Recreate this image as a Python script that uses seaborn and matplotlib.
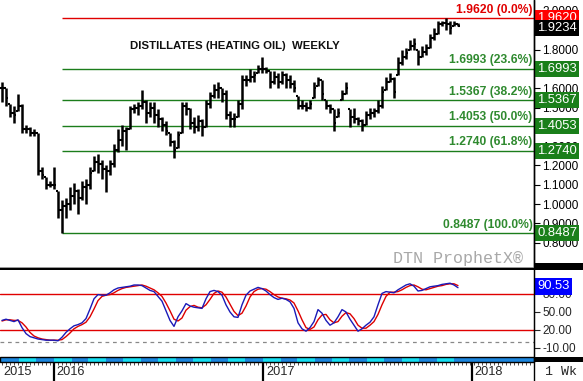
import matplotlib
matplotlib.use('Agg')
import numpy as np
import pandas as pd
import seaborn as sns
import matplotlib.pyplot as plt
import matplotlib.transforms as mtrans
from matplotlib.patches import Rectangle

# weekly heating oil bars, first bar week of 2015-10-02
first_week = '2015-10-02'
highs = [1.63, 1.60, 1.52, 1.51, 1.57, 1.52, 1.41, 1.40, 1.39, 1.37,
         1.19, 1.14, 1.12, 1.19, 1.07, 1.02, 1.03, 1.09, 1.11, 1.08,
         1.12, 1.13, 1.19, 1.25, 1.26, 1.23, 1.20, 1.23, 1.31, 1.39,
         1.41, 1.40, 1.51, 1.52, 1.53, 1.59, 1.54, 1.53, 1.53, 1.49,
         1.45, 1.43, 1.37, 1.33, 1.38, 1.53, 1.53, 1.50, 1.45, 1.46,
         1.44, 1.54, 1.58, 1.62, 1.63, 1.60, 1.59, 1.48, 1.47, 1.54,
         1.67, 1.67, 1.70, 1.69, 1.72, 1.76, 1.71, 1.69, 1.69, 1.68,
         1.69, 1.68, 1.67, 1.64, 1.56, 1.54, 1.53, 1.54, 1.63, 1.66,
         1.64, 1.54, 1.52, 1.49, 1.50, 1.59, 1.63, 1.49, 1.50, 1.45,
         1.44, 1.48, 1.50, 1.50, 1.54, 1.61, 1.66, 1.68, 1.66, 1.76,
         1.80, 1.81, 1.85, 1.86, 1.80, 1.82, 1.83, 1.88, 1.91, 1.95,
         1.95, 1.962, 1.95, 1.95, 1.94]
lows = [1.53, 1.51, 1.45, 1.42, 1.48, 1.37, 1.37, 1.35, 1.35, 1.15,
        1.13, 1.08, 1.09, 1.08, 0.93, 0.8487, 0.93, 0.97, 1.00, 0.95,
        1.02, 1.00, 1.08, 1.17, 1.16, 1.13, 1.06, 1.15, 1.19, 1.27,
        1.30, 1.28, 1.39, 1.47, 1.46, 1.49, 1.42, 1.45, 1.42, 1.40,
        1.38, 1.36, 1.30, 1.24, 1.29, 1.37, 1.46, 1.39, 1.37, 1.38,
        1.35, 1.40, 1.50, 1.55, 1.55, 1.53, 1.44, 1.40, 1.40, 1.45,
        1.49, 1.61, 1.63, 1.63, 1.68, 1.68, 1.68, 1.60, 1.62, 1.60,
        1.62, 1.60, 1.60, 1.58, 1.49, 1.49, 1.48, 1.49, 1.55, 1.61,
        1.54, 1.49, 1.47, 1.38, 1.45, 1.54, 1.57, 1.40, 1.42, 1.41,
        1.38, 1.41, 1.44, 1.45, 1.47, 1.50, 1.59, 1.63, 1.55, 1.67,
        1.72, 1.75, 1.80, 1.80, 1.72, 1.76, 1.77, 1.81, 1.85, 1.88,
        1.92, 1.90, 1.88, 1.92, 1.92]
closes = [1.60, 1.55, 1.47, 1.46, 1.51, 1.39, 1.39, 1.37, 1.37, 1.17,
          1.15, 1.10, 1.10, 1.10, 0.97, 0.99, 1.00, 1.04, 1.07, 1.03,
          1.09, 1.10, 1.16, 1.22, 1.21, 1.18, 1.17, 1.21, 1.28, 1.33,
          1.38, 1.39, 1.49, 1.50, 1.51, 1.53, 1.47, 1.50, 1.46, 1.44,
          1.41, 1.38, 1.32, 1.28, 1.36, 1.51, 1.49, 1.42, 1.40, 1.43,
          1.40, 1.52, 1.56, 1.59, 1.60, 1.57, 1.46, 1.44, 1.44, 1.52,
          1.64, 1.64, 1.66, 1.67, 1.70, 1.70, 1.69, 1.63, 1.66, 1.63,
          1.67, 1.64, 1.62, 1.60, 1.51, 1.51, 1.50, 1.52, 1.60, 1.64,
          1.57, 1.51, 1.49, 1.42, 1.47, 1.57, 1.60, 1.45, 1.44, 1.43,
          1.41, 1.46, 1.47, 1.48, 1.51, 1.58, 1.63, 1.65, 1.58, 1.73,
          1.76, 1.78, 1.82, 1.83, 1.76, 1.79, 1.81, 1.86, 1.88, 1.93,
          1.94, 1.93, 1.91, 1.93, 1.9234]

# stochastics (%K blue, %D red)
stoch_k = [36, 38, 36, 34, 37, 24, 14, 9, 7, 5,
           4, 3, 3, 3, 2, 8, 16, 22, 27, 29,
           32, 39, 55, 72, 79, 78, 78, 82, 87, 90,
           91, 92, 93, 95, 95, 94, 90, 86, 84, 76,
           68, 52, 36, 26, 42, 52, 64, 60, 58, 57,
           56, 72, 84, 86, 84, 78, 62, 50, 42, 41,
           62, 78, 85, 88, 91, 89, 85, 79, 74, 71,
           73, 71, 67, 56, 32, 22, 18, 24, 34, 54,
           48, 36, 28, 32, 42, 54, 50, 38, 28, 18,
           22, 28, 33, 42, 62, 81, 84, 83, 82, 87,
           91, 95, 97, 93, 85, 86, 89, 92, 93, 94,
           96, 97, 98, 95, 90.53]
stoch_d = [35, 37, 37, 36, 36, 32, 25, 16, 10, 7,
           5, 4, 3, 3, 3, 4, 9, 15, 22, 26,
           29, 33, 42, 55, 69, 76, 78, 79, 82, 86,
           89, 91, 92, 93, 94, 95, 93, 90, 87, 82,
           76, 65, 52, 38, 35, 40, 53, 59, 61, 58,
           57, 62, 71, 81, 85, 83, 75, 63, 51, 44,
           48, 60, 75, 84, 88, 89, 88, 84, 79, 75,
           73, 72, 70, 65, 52, 37, 24, 21, 25, 37,
           45, 46, 37, 32, 34, 43, 49, 47, 39, 28,
           23, 23, 28, 34, 46, 62, 76, 83, 83, 84,
           87, 91, 94, 95, 92, 88, 87, 89, 91, 93,
           94, 96, 97, 97, 94]

fib_levels = [1.9620, 1.6993, 1.5367, 1.4053, 1.2740, 0.8487]
fib_pcts = ['0.0%', '23.6%', '38.2%', '50.0%', '61.8%', '100.0%']
last_price = 1.9234
price_ticks = [0.8, 0.9, 1.0, 1.1, 1.2, 1.3, 1.4, 1.5, 1.6, 1.7, 1.8, 1.9, 2.0]
price_tick_labels = ['0.8000', '0.9000', '1.0000', '1.1000', '1.2000', '1.3000', '',
                     '1.5000', '1.6000', '', '1.8000', '', '2.0000']
stoch_ticks = [-10, 20, 50, 80]
year_labels = ['2015', '2016', '2017', '2018']

sns.set_style('white')
plt.rcParams['font.family'] = ['Liberation Sans', 'DejaVu Sans']

W, H = 583, 381
fig = plt.figure(figsize=(W / 100, H / 100), dpi=100)

def fx(px):
    return px / W

def fy(py):
    return 1 - py / H

GREEN = '#1b7d1b'
GREEN_TXT = '#2f8a2f'
RED = '#e00000'

ax_p = fig.add_axes([0, fy(266), fx(534), (266 - 0) / H])
ax_s = fig.add_axes([0, fy(357), fx(534), (357 - 270) / H])
ax_b = fig.add_axes([0, fy(362), fx(534), 5 / H])
ax_d = fig.add_axes([0, 0, fx(534), fy(362)])

xmin, xmax = -0.5, 133.0
n = len(closes)
idx = np.arange(n)
start = pd.Timestamp(first_week)

def date_idx(d):
    return (pd.Timestamp(d) - start).days / 7.0

# ---- price panel ----
hi = np.array(highs)
lo = np.array(lows)
cl = np.array(closes)
op = np.clip(np.r_[cl[0], cl[:-1]], lo, hi)
ax_p.vlines(idx, lo, hi, color='black', lw=1.8, zorder=4)
ax_p.hlines(op, idx - 0.45, idx, color='black', lw=1.5, zorder=4)
ax_p.hlines(cl, idx, idx + 0.45, color='black', lw=1.5, zorder=4)

low_i = int(np.argmin(lo))
trans_r = mtrans.blended_transform_factory(ax_p.transAxes, ax_p.transData)
box_kw = dict(ha='left', va='center', color='white', fontsize=9.4, clip_on=False, zorder=6)
for lvl, pct in zip(fib_levels, fib_pcts):
    col = RED if pct == '0.0%' else GREEN
    tcol = RED if pct == '0.0%' else GREEN_TXT
    ax_p.hlines(lvl, low_i, xmax, color=col, lw=1.0, zorder=2)
    ax_p.annotate(f'{lvl:.4f} ({pct})', xy=(132.6, lvl), xytext=(0, 2),
                  textcoords='offset points', ha='right', va='bottom',
                  color=tcol, fontsize=8.7, fontweight='bold', zorder=5)
    ax_p.text(1.006, lvl, f'{lvl:.4f}', transform=trans_r,
              bbox=dict(facecolor=('#ff0000' if pct == '0.0%' else '#1a7f1a'),
                        edgecolor='none', pad=1.4), **box_kw)
ax_p.text(1.006, last_price - 0.012, f'{last_price:.4f}', transform=trans_r,
          bbox=dict(facecolor='black', edgecolor='none', pad=1.4), **box_kw)

ax_p.set_xlim(xmin, xmax)
ax_p.set_ylim(0.6793, 2.0568)
ax_p.yaxis.tick_right()
ax_p.set_yticks(price_ticks)
ax_p.set_yticklabels(price_tick_labels)
ax_p.tick_params(axis='y', right=True, length=4, width=0.8, labelsize=8.5, pad=2,
                 colors='black')
ax_p.set_xticks([])
for s in ['top', 'left', 'bottom']:
    ax_p.spines[s].set_visible(False)
ax_p.spines['right'].set_color('black')
ax_p.spines['right'].set_linewidth(1.0)

fig.text(fx(130), fy(46), 'DISTILLATES (HEATING OIL)  WEEKLY', ha='left', va='center',
         fontsize=8.2, fontweight='bold', color='#111111')
fig.text(fx(393), fy(258), 'DTN ProphetX\u00ae', ha='left', va='center',
         family=['Liberation Mono', 'DejaVu Sans Mono'], fontsize=12, color='#a8a8a8')

# ---- stochastic panel ----
sdf = pd.DataFrame({'week': idx, 'k': stoch_k, 'd': stoch_d})
ax_s.axhline(80, color=RED, lw=1.0)
ax_s.axhline(20, color=RED, lw=1.0)
ax_s.axhline(0, color='#888888', lw=0.9, dashes=(3, 3))
sns.lineplot(data=sdf, x='week', y='d', color='#dd0000', lw=1.0, ax=ax_s)
sns.lineplot(data=sdf, x='week', y='k', color='#1a1ab8', lw=1.0, ax=ax_s)
ax_s.set_xlim(xmin, xmax)
ax_s.set_ylim(-25, 120)
ax_s.set_xlabel('')
ax_s.set_ylabel('')
ax_s.set_xticks([])
ax_s.yaxis.tick_right()
ax_s.set_yticks(stoch_ticks)
ax_s.set_yticklabels([f'{t:.2f}' for t in stoch_ticks])
ax_s.tick_params(axis='y', right=True, length=4, width=0.8, labelsize=8.5, pad=2)
for s in ['top', 'left', 'bottom']:
    ax_s.spines[s].set_visible(False)
ax_s.spines['right'].set_color('black')
trans_s = mtrans.blended_transform_factory(ax_s.transAxes, ax_s.transData)
ax_s.text(1.006, stoch_k[-1] + 2, f'{stoch_k[-1]:.2f}', transform=trans_s,
          bbox=dict(facecolor='#0000ff', edgecolor='none', pad=1.8), **box_kw)

# ---- month band ----
months = pd.date_range('2015-09-01', '2018-03-01', freq='MS')
end_i = n - 0.5
for m0, m1 in zip(months[:-1], months[1:]):
    a, b = date_idx(m0), date_idx(m1)
    if a >= end_i:
        continue
    b = min(b, end_i)
    col = '#14def2' if m0.month % 2 == 1 else '#1c86de'
    ax_b.add_patch(Rectangle((a, 0), b - a, 1, facecolor=col, edgecolor='none'))
ax_b.add_patch(Rectangle((end_i, 0), xmax - end_i, 1, facecolor='#1c86de', edgecolor='none'))
ax_b.set_xlim(xmin, xmax)
ax_b.set_ylim(0, 1)
ax_b.axis('off')

# ---- date row ----
ax_d.set_xlim(xmin, xmax)
ax_d.set_ylim(0, 1)
ax_d.axis('off')
ax_d.vlines(np.arange(0, xmax), 0.84, 1.0, color='#333333', lw=0.6)
ax_d.text(0.3, 0.45, year_labels[0], ha='left', va='center', fontsize=9.2)
for yl in year_labels[1:]:
    xi = date_idx(f'{yl}-01-01')
    ax_d.vlines(xi, 0, 1, color='black', lw=1.6)
    ax_d.text(xi + 0.7, 0.45, yl, ha='left', va='center', fontsize=9.2)
fig.text(fx(545), fy(372), '1 Wk', ha='left', va='center',
         family=['Liberation Mono', 'DejaVu Sans Mono'], fontsize=9.5)

# separators
fig.patches.append(Rectangle((0, fy(270)), 1, 2.5 / H, transform=fig.transFigure,
                             facecolor='black', edgecolor='none'))
fig.patches.append(Rectangle((0, fy(267.5)), 1, 1 / H, transform=fig.transFigure,
                             facecolor='#999999', edgecolor='none'))
fig.patches.append(Rectangle((fx(534), fy(270)), 1, 7 / H, transform=fig.transFigure,
                             facecolor='black', edgecolor='none'))
fig.patches.append(Rectangle((0, fy(362)), fx(534), 5 / H, transform=fig.transFigure,
                             facecolor='none', edgecolor='black', lw=1.0))
fig.patches.append(Rectangle((fx(534), fy(362)), 1, 5 / H, transform=fig.transFigure,
                             facecolor='black', edgecolor='none'))
fig.lines.append(plt.Line2D([fx(534), fx(534)], [0, 1], transform=fig.transFigure,
                            color='black', lw=1.0))

fig.savefig('out.png', dpi=100)
